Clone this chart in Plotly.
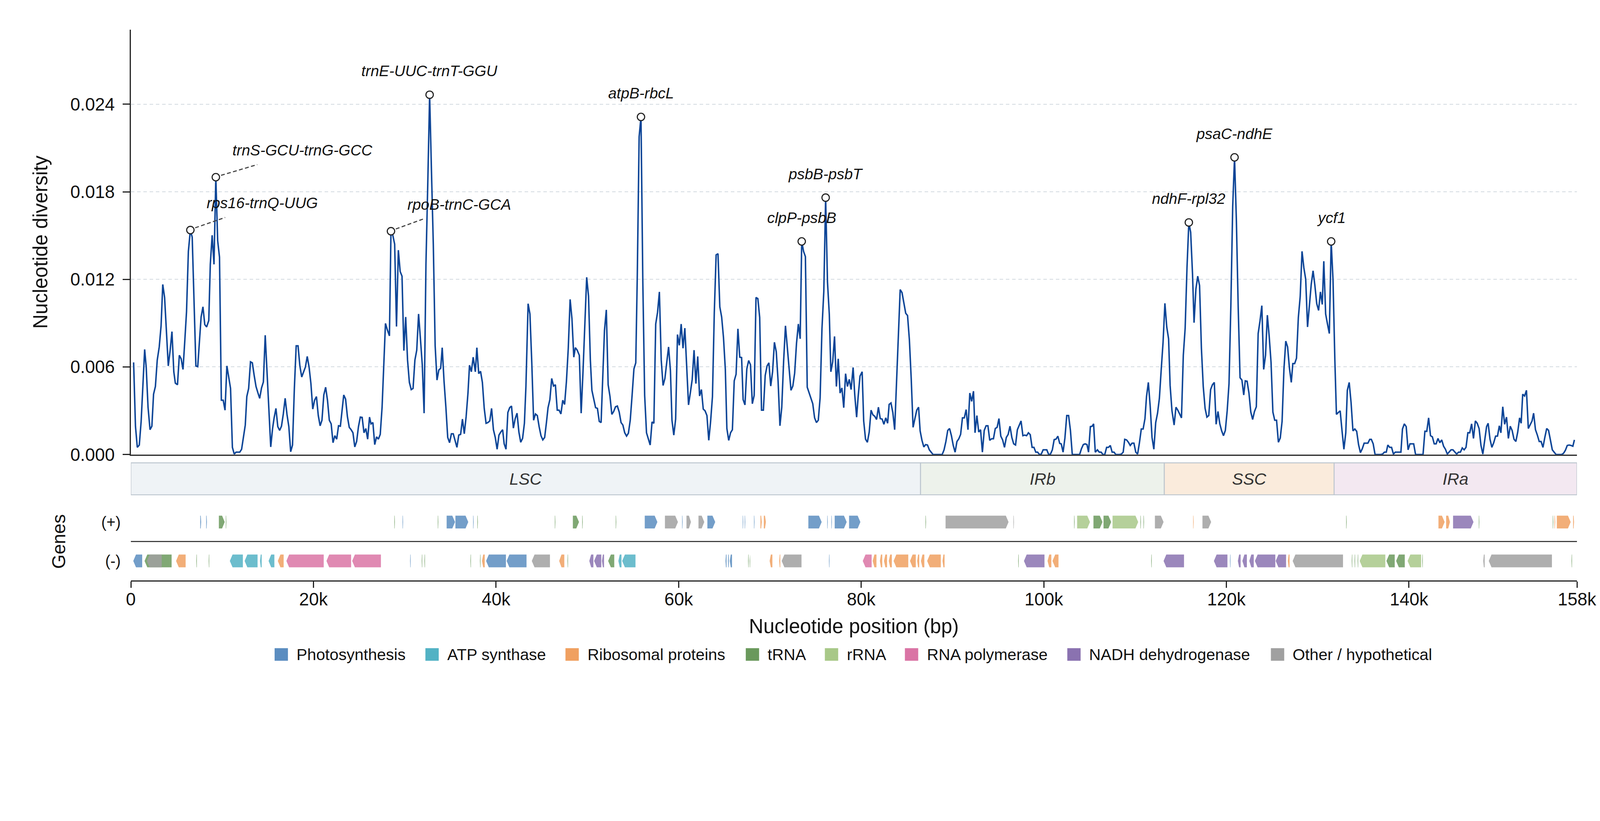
import plotly.graph_objects as go

# ---------------- data ----------------
GENOME_LEN = 158400
x_tickvals = [0, 20000, 40000, 60000, 80000, 100000, 120000, 140000, 158400]
x_ticktext = ['0', '20k', '40k', '60k', '80k', '100k', '120k', '140k', '158k']
y_tickvals = [0, 0.006, 0.012, 0.018, 0.024]
Y_MAX = 0.0291

# sliding-window nucleotide diversity (window midpoint bp, Pi)
pos_a = [302, 504, 706, 924, 1126, 1310, 1512, 1680, 1882, 2100, 2302, 2486, 2688, 2890, 3108, 3310, 3494, 3696, 3898, 4099,
         4301, 4502, 4704, 4872, 5107, 5309, 5510, 5712, 5914, 6098, 6300, 6518, 6720, 6922, 7123, 7325, 7493, 7694, 7896, 8098,
         8299, 8534, 8702, 8904, 9106, 9307, 9509, 9710, 9912, 10114, 10315, 10517, 10718, 10920, 11122, 11323, 11525, 11726, 11928, 12130,
         12331, 12533, 12701, 12902, 13104, 13306, 13507, 13709, 13910, 14112, 14314, 14515, 14717, 14918, 15120, 15322, 15523, 15691, 15893, 16094,
         16296, 16498, 16699, 16901, 17102, 17304, 17506, 17707, 17909, 18110, 18312, 18514, 18715, 18917, 19118, 19320, 19522, 19723, 19925, 20126,
         20328, 20530, 20731, 20933, 21134, 21336, 21538, 21739, 21941, 22142, 22344, 22546, 22747, 22949, 23150, 23318, 23520, 23722, 23923, 24125,
         24326, 24528, 24730, 24931, 25133, 25334, 25536, 25738, 25939, 26141, 26309]
div_a = [0.00631, 0.00194, 0.00049, 0.00065, 0.00227, 0.00486, 0.00720, 0.00599, 0.00324, 0.00170, 0.00194, 0.00413, 0.00466, 0.00647, 0.00737, 0.00882, 0.01165, 0.01076, 0.00826, 0.00607,
         0.00712, 0.00842, 0.00567, 0.00489, 0.00478, 0.00680, 0.00656, 0.00583, 0.00785, 0.00979, 0.01392, 0.01538, 0.01489, 0.01004, 0.00607, 0.00602, 0.00745, 0.00942, 0.01012, 0.00890,
         0.00874, 0.00918, 0.01303, 0.01502, 0.01303, 0.01900, 0.01465, 0.01352, 0.00372, 0.00372, 0.00304, 0.00607, 0.00531, 0.00453, 0.00049, 0.00003, 0.00016, 0.00016, 0.00016, 0.00036,
         0.00121, 0.00202, 0.00397, 0.00453, 0.00635, 0.00628, 0.00542, 0.00466, 0.00424, 0.00385, 0.00456, 0.00497, 0.00817, 0.00558, 0.00348, 0.00052, 0.00178, 0.00251, 0.00316, 0.00191,
         0.00165, 0.00194, 0.00278, 0.00385, 0.00275, 0.00191, 0.00019, 0.00065, 0.00453, 0.00745, 0.00745, 0.00607, 0.00531, 0.00567, 0.00599, 0.00672, 0.00599, 0.00486, 0.00311, 0.00372,
         0.00397, 0.00267, 0.00197, 0.00235, 0.00408, 0.00461, 0.00372, 0.00235, 0.00210, 0.00081, 0.00129, 0.00105, 0.00197, 0.00194, 0.00316, 0.00408, 0.00380, 0.00259, 0.00186, 0.00170,
         0.00149, 0.00052, 0.00089, 0.00191, 0.00256, 0.00254, 0.00149, 0.00178, 0.00105, 0.00256, 0.00210]

pos_b = [26510, 26712, 26913, 27115, 27316, 27518, 27686, 27888, 28089, 28324, 28492, 28694, 28896, 29097, 29299, 29500, 29702, 29904, 30105, 30307,
         30508, 30710, 30912, 31113, 31315, 31516, 31718, 31920, 32121, 32323, 32524, 32726, 32928, 33129, 33331, 33532, 33734, 33936, 34104, 34305,
         34507, 34708, 34910, 35112, 35313, 35515, 35716, 35918, 36120, 36321, 36523, 36724, 36926, 37094, 37296, 37497, 37732, 37900, 38102, 38304,
         38505, 38707, 38908, 39110, 39312, 39513, 39715, 39916, 40118, 40320, 40521, 40723, 40891, 41092, 41294, 41496, 41697, 41899, 42100, 42302,
         42504, 42705, 42907, 43108, 43276, 43512, 43713, 43915, 44116, 44318, 44520, 44721, 44923, 45124, 45326, 45528, 45696, 45897, 46099, 46300,
         46502, 46704, 46905, 47107, 47308, 47510, 47712, 47913, 48115, 48316, 48518, 48686, 48888, 49122, 49324, 49526, 49728, 49929, 50131, 50332,
         50500, 50702, 50904, 51105, 51307, 51508, 51710, 51878, 52080, 52281, 52483, 52684]
div_b = [0.00219, 0.00068, 0.00121, 0.00105, 0.00138, 0.00324, 0.00607, 0.00898, 0.00855, 0.00813, 0.01530, 0.01502, 0.01441, 0.00877, 0.01400, 0.01254, 0.01222, 0.00712, 0.00942, 0.00647,
         0.00494, 0.00445, 0.00453, 0.00647, 0.00715, 0.00963, 0.00793, 0.00615, 0.00283, 0.01303, 0.01860, 0.02465, 0.01940, 0.01441, 0.00745, 0.00510, 0.00579, 0.00591, 0.00732, 0.00502,
         0.00324, 0.00117, 0.00081, 0.00142, 0.00142, 0.00094, 0.00049, 0.00133, 0.00138, 0.00243, 0.00142, 0.00259, 0.00421, 0.00612, 0.00567, 0.00667, 0.00567, 0.00732, 0.00554, 0.00570,
         0.00494, 0.00316, 0.00214, 0.00219, 0.00230, 0.00316, 0.00170, 0.00117, 0.00036, 0.00133, 0.00154, 0.00170, 0.00073, 0.00036, 0.00288, 0.00321, 0.00332, 0.00181, 0.00246, 0.00283,
         0.00154, 0.00084, 0.00110, 0.00214, 0.00469, 0.01033, 0.00963, 0.00631, 0.00235, 0.00278, 0.00267, 0.00191, 0.00129, 0.00100, 0.00117, 0.00223, 0.00321, 0.00376, 0.00521, 0.00469,
         0.00478, 0.00304, 0.00304, 0.00278, 0.00372, 0.00343, 0.00502, 0.00728, 0.01063, 0.00931, 0.00667, 0.00732, 0.00715, 0.00680, 0.00283, 0.00567, 0.00898, 0.01214, 0.01085, 0.00647,
         0.00440, 0.00380, 0.00321, 0.00316, 0.00227, 0.00219, 0.00602, 0.00850, 0.00991, 0.00478, 0.00397, 0.00275]

pos_c = [52887, 53088, 53290, 53491, 53693, 53895, 54096, 54298, 54499, 54701, 54903, 55104, 55306, 55474, 55675, 55877, 56079, 56280, 56482, 56683,
         56885, 57087, 57288, 57490, 57691, 57893, 58095, 58296, 58498, 58699, 58901, 59103, 59271, 59472, 59674, 59875, 60077, 60279, 60480, 60682,
         60883, 61085, 61287, 61488, 61690, 61891, 62093, 62295, 62496, 62698, 62899, 63101, 63303, 63504, 63706, 63907, 64109, 64311, 64512, 64714,
         64915, 65117, 65285, 65487, 65688, 65890, 66091, 66293, 66495, 66696, 66898, 67066, 67267, 67469, 67671, 67872, 68074, 68275, 68477, 68679,
         68880, 69082, 69283, 69485, 69687, 69888, 70090, 70291, 70493, 70695, 70896, 71098, 71299, 71501, 71703, 71904, 72106, 72307, 72509, 72711,
         72912, 73114, 73315, 73483, 73685, 73887, 74088, 74290, 74491, 74693, 74895, 75096, 75298, 75499, 75701, 75903, 76104, 76306, 76507, 76675,
         76877, 77078, 77280, 77482, 77683, 77885, 78087, 78288, 78490, 78691, 78893]
div_c = [0.00295, 0.00327, 0.00332, 0.00291, 0.00219, 0.00202, 0.00149, 0.00126, 0.00146, 0.00235, 0.00405, 0.00586, 0.00628, 0.01230, 0.02177, 0.02313, 0.01182, 0.00405, 0.00149, 0.00105,
         0.00065, 0.00223, 0.00214, 0.00894, 0.00974, 0.01114, 0.00647, 0.00473, 0.00521, 0.00631, 0.00737, 0.00575, 0.00235, 0.00133, 0.00243, 0.00822, 0.00748, 0.00894, 0.00728, 0.00866,
         0.00599, 0.00340, 0.00424, 0.00515, 0.00715, 0.00486, 0.00672, 0.00401, 0.00445, 0.00311, 0.00299, 0.00267, 0.00097, 0.00227, 0.00397, 0.00971, 0.01368, 0.01376, 0.01012, 0.00942,
         0.00801, 0.00583, 0.00178, 0.00097, 0.00149, 0.00170, 0.00505, 0.00550, 0.00861, 0.00667, 0.00664, 0.00376, 0.00340, 0.00586, 0.00644, 0.00615, 0.00348, 0.00405, 0.01076, 0.01068,
         0.00939, 0.00304, 0.00304, 0.00542, 0.00607, 0.00628, 0.00469, 0.00567, 0.00769, 0.00704, 0.00502, 0.00197, 0.00324, 0.00639, 0.00882, 0.00728, 0.00567, 0.00440, 0.00469, 0.00558,
         0.00761, 0.00894, 0.00793, 0.01460, 0.01392, 0.01356, 0.00461, 0.00421, 0.00380, 0.00348, 0.00251, 0.00219, 0.00235, 0.00388, 0.00861, 0.01117, 0.01760, 0.01182, 0.00958, 0.00567,
         0.00635, 0.00809, 0.00466, 0.00656, 0.00421, 0.00456, 0.00321, 0.00554, 0.00466, 0.00515, 0.00445]

pos_d = [79112, 79297, 79498, 79666, 79868, 80103, 80271, 80473, 80674, 80876, 81078, 81279, 81481, 81682, 81884, 82086, 82287, 82489, 82690, 82892,
         83060, 83262, 83463, 83665, 83866, 84068, 84270, 84471, 84673, 84874, 85076, 85278, 85479, 85681, 85882, 86084, 86286, 86454, 86655, 86857,
         87058, 87260, 87462, 87663, 87865, 88066, 88268, 88470, 88671, 88873, 89074, 89276, 89478, 89679, 89881, 90082, 90284, 90486, 90687, 90889,
         91090, 91292, 91494, 91695, 91897, 92098, 92300, 92468, 92670, 92871, 93073, 93274, 93476, 93678, 93879, 94081, 94282, 94484, 94686, 94887,
         95089, 95290, 95492, 95694, 95895, 96097, 96298, 96500, 96702, 96903, 97105, 97306, 97508, 97710, 97911, 98113, 98314, 98516, 98718, 98919,
         99121, 99322, 99524, 99726, 99927, 100129, 100330, 100532, 100734, 100935, 101137, 101338, 101540, 101742, 101910, 102111, 102313, 102514, 102716, 102918,
         103119, 103321, 103522, 103724, 103926, 104127, 104329, 104530, 104732, 104900, 105102, 105303]
div_d = [0.00596, 0.00405, 0.00256, 0.00397, 0.00537, 0.00567, 0.00230, 0.00105, 0.00084, 0.00154, 0.00304, 0.00272, 0.00262, 0.00240, 0.00324, 0.00246, 0.00243, 0.00207, 0.00251, 0.00214,
         0.00343, 0.00353, 0.00288, 0.00170, 0.00494, 0.00809, 0.01130, 0.01109, 0.01036, 0.00968, 0.00952, 0.00785, 0.00518, 0.00186, 0.00246, 0.00304, 0.00324, 0.00162, 0.00097, 0.00052,
         0.00068, 0.00065, 0.00032, 0.00016, 0.00000, 0.00000, 0.00000, 0.00000, 0.00000, 0.00000, 0.00032, 0.00089, 0.00165, 0.00178, 0.00129, 0.00062, 0.00016, 0.00089, 0.00107, 0.00138,
         0.00251, 0.00251, 0.00308, 0.00170, 0.00421, 0.00364, 0.00434, 0.00149, 0.00267, 0.00154, 0.00170, 0.00016, 0.00165, 0.00197, 0.00197, 0.00097, 0.00108, 0.00108, 0.00178, 0.00186,
         0.00246, 0.00126, 0.00100, 0.00049, 0.00117, 0.00138, 0.00194, 0.00117, 0.00073, 0.00065, 0.00170, 0.00202, 0.00230, 0.00129, 0.00133, 0.00129, 0.00149, 0.00136, 0.00049, 0.00049,
         0.00016, 0.00016, 0.00000, 0.00003, 0.00032, 0.00032, 0.00032, 0.00000, 0.00003, 0.00032, 0.00102, 0.00105, 0.00126, 0.00076, 0.00073, 0.00016, 0.00113, 0.00267, 0.00267, 0.00165,
         0.00000, 0.00000, 0.00000, 0.00000, 0.00000, 0.00040, 0.00068, 0.00073, 0.00068, 0.00016, 0.00191, 0.00194]

pos_e = [105454, 105639, 105874, 106076, 106277, 106479, 106680, 106882, 107084, 107285, 107487, 107688, 107890, 108092, 108293, 108495, 108696, 108864, 109066, 109268,
         109469, 109671, 109872, 110074, 110276, 110477, 110679, 110880, 111082, 111250, 111452, 111653, 111855, 112056, 112258, 112460, 112661, 112863, 113064, 113266,
         113468, 113669, 113837, 114039, 114274, 114476, 114677, 114879, 115080, 115282, 115484, 115685, 115887, 116088, 116290, 116458, 116660, 116861, 117063, 117264,
         117466, 117668, 117869, 118071, 118272, 118474, 118676, 118877, 119079, 119280, 119482, 119684, 119885, 120087, 120288, 120490, 120692, 120893, 121095, 121296,
         121498, 121700, 121901, 122069, 122271, 122472, 122674, 122876, 123077, 123279, 123480, 123682, 123884, 124085, 124287, 124488, 124690, 124892, 125093, 125295,
         125496, 125698, 125900, 126101, 126303, 126504, 126706, 126908, 127109, 127277, 127479, 127680, 127882, 128084, 128285, 128487, 128688, 128890, 129092, 129293,
         129495, 129696, 129898, 130100, 130301, 130503, 130671, 130872, 131074, 131276, 131477, 131679, 131880]
div_e = [0.00210, 0.00016, 0.00032, 0.00016, 0.00016, 0.00000, 0.00000, 0.00049, 0.00049, 0.00062, 0.00016, 0.00016, 0.00000, 0.00000, 0.00000, 0.00003, 0.00016, 0.00104, 0.00100, 0.00084,
         0.00062, 0.00078, 0.00078, 0.00016, 0.00003, 0.00081, 0.00175, 0.00175, 0.00246, 0.00397, 0.00494, 0.00332, 0.00117, 0.00036, 0.00219, 0.00283, 0.00385, 0.00583, 0.00769, 0.01036,
         0.00874, 0.00793, 0.00473, 0.00300, 0.00202, 0.00324, 0.00304, 0.00278, 0.00251, 0.00680, 0.00866, 0.01279, 0.01590, 0.01522, 0.01238, 0.00903, 0.01133, 0.01222, 0.01157, 0.00728,
         0.00466, 0.00316, 0.00256, 0.00267, 0.00445, 0.00478, 0.00494, 0.00207, 0.00295, 0.00210, 0.00162, 0.00129, 0.00165, 0.00299, 0.00486, 0.01020, 0.01700, 0.02036, 0.01603, 0.01004,
         0.00526, 0.00510, 0.00408, 0.00505, 0.00502, 0.00421, 0.00291, 0.00240, 0.00295, 0.00327, 0.00829, 0.00915, 0.01020, 0.00583, 0.00680, 0.00955, 0.00809, 0.00631, 0.00291, 0.00235,
         0.00235, 0.00084, 0.00113, 0.00227, 0.00583, 0.00777, 0.00737, 0.00591, 0.00494, 0.00623, 0.00623, 0.00660, 0.00939, 0.01081, 0.01392, 0.01279, 0.01201, 0.00874, 0.01020, 0.01165,
         0.01259, 0.01157, 0.01033, 0.00987, 0.01114, 0.01028, 0.01324, 0.00963, 0.00894, 0.00829, 0.01460, 0.01198, 0.00650]

pos_f = [132054, 132259, 132464, 132668, 132873, 133078, 133248, 133453, 133658, 133863, 134067, 134272, 134477, 134681, 134886, 135091, 135296, 135500, 135705, 135876,
         136080, 136285, 136490, 136695, 136899, 137104, 137309, 137514, 137684, 137889, 138094, 138298, 138503, 138708, 138912, 139117, 139288, 139492, 139697, 139902,
         140107, 140311, 140516, 140721, 140925, 141130, 141335, 141540, 141744, 141949, 142154, 142359, 142563, 142768, 142973, 143177, 143382, 143587, 143791, 143996,
         144201, 144406, 144610, 144815, 145020, 145224, 145429, 145634, 145839, 146043, 146248, 146453, 146657, 146862, 147067, 147272, 147476, 147681, 147886, 148091,
         148295, 148500, 148671, 148875, 149080, 149285, 149490, 149694, 149899, 150070, 150275, 150479, 150684, 150889, 151093, 151298, 151503, 151708, 151912, 152117,
         152288, 152458, 152663, 152868, 153073, 153277, 153482, 153653, 153857, 154062, 154267, 154471, 154676, 154881, 155086, 155290, 155495, 155700, 155904, 156109,
         156314, 156519, 156723, 156928, 157133, 157337, 157542, 157747, 157951, 158122]
div_f = [0.00275, 0.00288, 0.00299, 0.00162, 0.00036, 0.00149, 0.00440, 0.00494, 0.00356, 0.00162, 0.00175, 0.00159, 0.00068, 0.00013, 0.00040, 0.00078, 0.00078, 0.00078, 0.00104, 0.00104,
         0.00073, 0.00000, 0.00000, 0.00000, 0.00000, 0.00003, 0.00016, 0.00016, 0.00065, 0.00049, 0.00049, 0.00003, 0.00016, 0.00016, 0.00016, 0.00016, 0.00175, 0.00210, 0.00191, 0.00032,
         0.00073, 0.00073, 0.00073, 0.00000, 0.00000, 0.00000, 0.00000, 0.00000, 0.00159, 0.00159, 0.00251, 0.00129, 0.00121, 0.00073, 0.00073, 0.00110, 0.00081, 0.00100, 0.00057, 0.00036,
         0.00003, 0.00016, 0.00032, 0.00032, 0.00019, 0.00003, 0.00016, 0.00016, 0.00045, 0.00032, 0.00049, 0.00149, 0.00149, 0.00210, 0.00110, 0.00230, 0.00214, 0.00178, 0.00062, 0.00003,
         0.00097, 0.00191, 0.00214, 0.00105, 0.00049, 0.00081, 0.00126, 0.00126, 0.00197, 0.00149, 0.00327, 0.00207, 0.00256, 0.00110, 0.00194, 0.00165, 0.00105, 0.00089, 0.00154, 0.00251,
         0.00214, 0.00413, 0.00401, 0.00440, 0.00178, 0.00202, 0.00230, 0.00283, 0.00170, 0.00133, 0.00089, 0.00089, 0.00049, 0.00117, 0.00178, 0.00165, 0.00097, 0.00032, 0.00016, 0.00000,
         0.00000, 0.00000, 0.00000, 0.00008, 0.00029, 0.00062, 0.00065, 0.00062, 0.00057, 0.00100]

window_pos = pos_a + pos_b + pos_c + pos_d + pos_e + pos_f
diversity = div_a + div_b + div_c + div_d + div_e + div_f

# labelled hotspots
peak_labels = ['rps16-trnQ-UUG', 'trnS-GCU-trnG-GCC', 'rpoB-trnC-GCA', 'trnE-UUC-trnT-GGU', 'atpB-rbcL',
               'clpP-psbB', 'psbB-psbT', 'ndhF-rpl32', 'psaC-ndhE', 'ycf1']
peak_pos = [6518, 9307, 28492, 32726, 55877, 73483, 76104, 115887, 120893, 131477]

# genome regions
region_names = ['LSC', 'IRb', 'SSC', 'IRa']
region_start = [0, 86500, 113200, 131800]
region_end = [86500, 113200, 131800, 158400]
region_colors = ['#eff3f6', '#edf2eb', '#faebdc', '#f3e8f1']

# gene categories
categories = ['Photosynthesis', 'ATP synthase', 'Ribosomal proteins', 'tRNA', 'rRNA',
              'RNA polymerase', 'NADH dehydrogenase', 'Other / hypothetical']
cat_codes = ['PS', 'ATP', 'RP', 'TRNA', 'RRNA', 'POL', 'NDH', 'OTH']
cat_colors = ['#5b8dc0', '#52b2c4', '#f0a060', '#6a995c', '#a8c888', '#da74a5', '#8a72b0', '#a0a0a0']

# genes: start, end, strand (+1 / -1), category code
gene_start = [7600, 8250, 9640, 10400, 28860, 29760, 33620, 34590, 35550, 37490, 37950, 46440, 48415, 49440, 53110, 56290, 58500, 60380, 60860, 62175,
              63150, 67020, 67240, 68255, 68960, 69335, 74210, 76280, 76730, 77095, 78670, 87040, 89240, 96670, 103320, 103650, 105440, 106540, 107530, 110580,
              110920, 112170, 116360, 117380, 133120, 143230, 144070, 144830, 147650, 155750, 155940, 156195, 157980,
              263, 1500, 1760, 4950, 7170, 8525, 10840, 12460, 14145, 15085, 16095, 17035, 21425, 24240, 30585, 31860, 32160, 37190, 38240, 38460,
              38910, 41160, 43917, 46915, 47825, 50215, 50740, 51600, 52280, 53400, 53815, 65135, 65400, 65600, 67610, 67780, 69970, 71020, 71285, 76465,
              80170, 81255, 82045, 82495, 83020, 83545, 85345, 86130, 86540, 87220, 88905, 97195, 97825, 100410, 100950, 111760, 113120, 118630, 120390, 121255,
              121750, 122510, 123120, 125400, 126730, 127260, 133730, 134040, 134380, 134600, 137530, 138590, 139850, 141450, 148135, 148740, 157800]
gene_end = [7700, 8330, 10280, 10460, 28920, 29820, 33680, 35510, 36960, 37550, 38010, 46500, 49090, 49500, 53170, 57675, 59925, 60440, 61350, 62810,
            64010, 67080, 67300, 68315, 69110, 69560, 75670, 76340, 76790, 78410, 79910, 87100, 96140, 96730, 103380, 105060, 106430, 107380, 110340, 110640,
            110980, 113120, 116420, 118330, 133180, 143910, 144485, 147070, 147710, 155810, 156020, 157715, 158080,
            1240, 4465, 3380, 6000, 7230, 8585, 12270, 13880, 14330, 15720, 16735, 21125, 24125, 27390, 30645, 31920, 32220, 37250, 38300, 38760,
            41085, 43340, 45905, 47480, 47885, 50665, 51530, 51830, 52950, 53740, 55275, 65250, 65500, 65850, 67670, 67835, 70270, 71135, 73460, 76525,
            81145, 81670, 82305, 82830, 83355, 85155, 85980, 86355, 86915, 88720, 89130, 97255, 100075, 100825, 101610, 111820, 115360, 120115, 120450, 121560,
            122245, 123000, 125360, 126540, 126920, 132775, 133790, 134100, 134440, 137410, 138440, 139540, 141330, 141510, 148290, 155660, 157860]
gene_strand = [1] * 53 + [-1] * 87
gene_type = ['PS', 'PS', 'TRNA', 'TRNA', 'TRNA', 'PS', 'TRNA', 'PS', 'PS', 'PS', 'TRNA', 'TRNA', 'TRNA', 'TRNA', 'TRNA', 'PS', 'OTH', 'PS', 'OTH', 'OTH',
             'PS', 'PS', 'PS', 'PS', 'RP', 'RP', 'PS', 'PS', 'PS', 'PS', 'PS', 'TRNA', 'OTH', 'OTH', 'TRNA', 'RRNA', 'TRNA', 'TRNA', 'RRNA', 'TRNA',
             'TRNA', 'OTH', 'RP', 'OTH', 'TRNA', 'RP', 'RP', 'NDH', 'TRNA', 'TRNA', 'RP', 'RP', 'RP',
             'PS', 'TRNA', 'OTH', 'RP', 'TRNA', 'TRNA', 'ATP', 'ATP', 'ATP', 'ATP', 'RP', 'POL', 'POL', 'POL', 'PS', 'TRNA', 'TRNA', 'TRNA', 'TRNA', 'RP',
             'PS', 'PS', 'OTH', 'RP', 'TRNA', 'NDH', 'NDH', 'NDH', 'TRNA', 'ATP', 'ATP', 'PS', 'PS', 'PS', 'TRNA', 'TRNA', 'RP', 'RP', 'OTH', 'PS',
             'POL', 'RP', 'RP', 'RP', 'RP', 'RP', 'RP', 'RP', 'RP', 'RP', 'RP', 'TRNA', 'NDH', 'RP', 'RP', 'TRNA', 'NDH', 'NDH', 'PS', 'NDH',
             'NDH', 'NDH', 'NDH', 'NDH', 'RP', 'OTH', 'TRNA', 'TRNA', 'TRNA', 'RRNA', 'TRNA', 'TRNA', 'RRNA', 'TRNA', 'OTH', 'OTH', 'TRNA']

# ---------------- layout constants ----------------
# positions below are given in target-picture pixels (4322 x 2102) and mapped to CSS px
REF_W, REF_H = 4322, 2102
S = 1 / 1.0557          # picture px -> css px
BODY = 8                # default page body margin (css px)
W = int(REF_W * S) - BODY
H = int(REF_H * S) - BODY
FONT = 'Liberation Sans, Arial, sans-serif'


def cpx(p):
    return p * S - BODY


def sz(v):
    return v * S


ML = cpx(354)
XR = cpx(4262)
MR = W - XR
PW = XR - ML


def py(p):
    return 1 - cpx(p) / H


def pxx(p):
    return (cpx(p) - ML) / PW


def rgba(hex_color, a):
    h = hex_color.lstrip('#')
    return 'rgba(%d,%d,%d,%.2f)' % (int(h[0:2], 16), int(h[2:4], 16), int(h[4:6], 16), a)


fig = go.Figure()

# diversity line
fig.add_trace(go.Scatter(x=window_pos, y=diversity, mode='lines',
                         line=dict(color='#0d4597', width=sz(4)),
                         xaxis='x', yaxis='y', showlegend=False, hoverinfo='skip'))

# peak markers (taken from the series itself)
peak_val = [diversity[window_pos.index(p)] for p in peak_pos]
fig.add_trace(go.Scatter(x=peak_pos, y=peak_val, mode='markers',
                         marker=dict(symbol='circle', size=sz(20), color='white',
                                     line=dict(color='#222222', width=sz(3))),
                         xaxis='x', yaxis='y', showlegend=False, hoverinfo='skip'))

# gene arrows
HALF = 0.33
for ci, code in enumerate(cat_codes):
    xs, ys = [], []
    for s, e, st, t in zip(gene_start, gene_end, gene_strand, gene_type):
        if t != code:
            continue
        head = min(300, 0.45 * (e - s))
        yc = st
        if st > 0:
            px_ = [s, e - head, e, e - head, s, s]
            py_ = [yc - HALF, yc - HALF, yc, yc + HALF, yc + HALF, yc - HALF]
        else:
            px_ = [s, s + head, e, e, s + head, s]
            py_ = [yc, yc + HALF, yc + HALF, yc - HALF, yc - HALF, yc]
        xs += px_ + [None]
        ys += py_ + [None]
    fig.add_trace(go.Scatter(x=xs, y=ys, mode='lines', fill='toself',
                             fillcolor=rgba(cat_colors[ci], 0.85),
                             line=dict(width=0, color=rgba(cat_colors[ci], 0)),
                             xaxis='x2', yaxis='y2', showlegend=False, hoverinfo='skip'))

# region band
for name, s, e, c in zip(region_names, region_start, region_end, region_colors):
    fig.add_shape(type='rect', xref='x', yref='paper', x0=s, x1=e,
                  y0=py(1337.5), y1=py(1251), fillcolor=c,
                  line=dict(color='#bcc5ce', width=sz(2.5)))
    fig.add_annotation(x=(s + e) / 2, y=py(1294), xref='x', yref='paper',
                       text='<i>%s</i>' % name, showarrow=False,
                       font=dict(family=FONT, size=sz(45), color='#333333'))

# strand separator
fig.add_shape(type='line', xref='x2', yref='y2', x0=0, x1=GENOME_LEN, y0=0, y1=0,
              line=dict(color='#333333', width=sz(3)))

# top tick of the diversity axis
fig.add_shape(type='line', xref='x', yref='y', xsizemode='pixel', xanchor=0,
              x0=-sz(19), x1=0, y0=Y_MAX, y1=Y_MAX, line=dict(color='#222222', width=sz(3)))

# peak labels
label_shift = {'rps16-trnQ-UUG': (194, 73), 'trnS-GCU-trnG-GCC': (234, 73), 'rpoB-trnC-GCA': (184, 72)}
leader = {'rps16-trnQ-UUG': (13, 6, 94, 34), 'trnS-GCU-trnG-GCC': (14, 5, 112, 34), 'rpoB-trnC-GCA': (13, 6, 90, 34)}
for lbl, p, v in zip(peak_labels, peak_pos, peak_val):
    dx, dy = label_shift.get(lbl, (0, 64))
    fig.add_annotation(x=p, y=v, xref='x', yref='y', text='<i>%s</i>' % lbl,
                       showarrow=False, xanchor='center', yanchor='middle',
                       xshift=sz(dx), yshift=sz(dy), font=dict(family=FONT, size=sz(41), color='#111111'))
    if lbl in leader:
        a, b, c2, d = leader[lbl]
        fig.add_shape(type='line', xref='x', yref='y', xsizemode='pixel', ysizemode='pixel',
                      xanchor=p, yanchor=v, x0=sz(a), y0=sz(b), x1=sz(c2), y1=sz(d),
                      line=dict(color='#444444', width=sz(3), dash='10px,6px'))

# manual legend (large square swatches)
LEG_X = [742.5, 1150, 1528.5, 2015.8, 2229.5, 2445.8, 2884.7, 3434.9]
for i, cat in enumerate(categories):
    fig.add_shape(type='rect', xref='paper', yref='paper',
                  x0=pxx(LEG_X[i]), x1=pxx(LEG_X[i] + 36), y0=py(1786), y1=py(1752),
                  fillcolor=cat_colors[i], line=dict(width=0))
    fig.add_annotation(xref='paper', yref='paper', x=pxx(LEG_X[i] + 57), y=py(1769),
                       text=cat, showarrow=False, xanchor='left', yanchor='middle',
                       font=dict(family=FONT, size=sz(43.5), color='#111111'))

axis_line = dict(showline=True, linecolor='#222222', linewidth=sz(3.5), zeroline=False)

fig.update_layout(
    width=W, height=H, margin=dict(l=ML, r=MR, t=0, b=0, pad=0),
    paper_bgcolor='white', plot_bgcolor='white', template='none',
    font=dict(family=FONT, color='#111111'), showlegend=False,
    xaxis=dict(domain=[0, 1], range=[0, GENOME_LEN], anchor='y', showticklabels=False,
               ticks='', showgrid=False, automargin=False, **axis_line),
    yaxis=dict(domain=[py(1228.5), py(80.5)], range=[0, Y_MAX], anchor='x',
               tickvals=y_tickvals, ticktext=['%.3f' % v for v in y_tickvals],
               ticks='outside', ticklen=sz(19), tickwidth=sz(3), tickcolor='#222222',
               showgrid=True, gridcolor='#d3dae0', gridwidth=sz(2.5), griddash='9px,7px',
               tickfont=dict(size=sz(48), color='#111111'), ticklabelstandoff=11,
               title=dict(text='Nucleotide diversity', font=dict(size=sz(54), color='#111111'), standoff=sz(44.5)),
               automargin=False, **axis_line),
    xaxis2=dict(domain=[0, 1], range=[0, GENOME_LEN], anchor='y2',
                tickvals=x_tickvals, ticktext=x_ticktext,
                ticks='outside', ticklen=sz(17), tickwidth=sz(3), tickcolor='#222222', showgrid=False,
                tickfont=dict(size=sz(48), color='#111111'), ticklabelstandoff=-10,
                title=dict(text='Nucleotide position (bp)', font=dict(size=sz(54), color='#111111'), standoff=sz(28)),
                automargin=False, **axis_line),
    yaxis2=dict(domain=[py(1568.7), py(1358.5)], range=[-2, 2], anchor='x2',
                tickvals=[1, -1], ticktext=['(+)', '(-)'], ticks='', showline=False,
                showgrid=False, zeroline=False, tickfont=dict(size=sz(42), color='#111111'),
                ticklabelstandoff=25,
                title=dict(text='Genes', font=dict(size=sz(50), color='#111111'), standoff=sz(80)),
                automargin=False),
)

fig.write_html('out.html')
